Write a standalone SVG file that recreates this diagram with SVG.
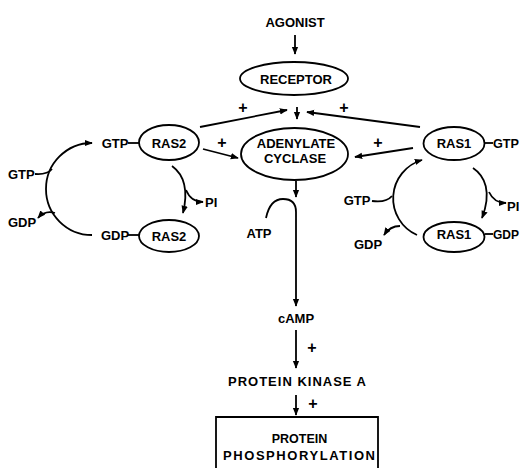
<svg xmlns="http://www.w3.org/2000/svg" width="520" height="468" viewBox="0 0 520 468">
  <style>
    .t { font-family: "Liberation Sans", Arial, sans-serif; font-weight: bold; font-size: 13px; fill: #000; }
    .m { text-anchor: middle; }
    .p { font-size: 16px; }
    .s { fill: none; stroke: #000; stroke-width: 1.8; }
    .a { fill: none; stroke: #000; stroke-width: 1.8; marker-end: url(#ah); }
  </style>
  <defs>
    <marker id="ah" viewBox="0 0 10 10" refX="9" refY="5" markerWidth="8" markerHeight="8" markerUnits="userSpaceOnUse" orient="auto">
      <path d="M0,1 L10,5 L0,9 z" fill="#000"/>
    </marker>
  </defs>
  <rect width="520" height="468" fill="#fff"/>

  <!-- nodes -->
  <g id="agonist">
    <text class="t m" x="295" y="27">AGONIST</text>
  </g>
  <g id="receptor">
    <ellipse class="s" cx="294" cy="78.5" rx="54" ry="16.5"/>
    <text class="t m" x="296" y="84">RECEPTOR</text>
  </g>
  <g id="adenylate-cyclase">
    <ellipse class="s" cx="294.5" cy="154" rx="53.5" ry="26"/>
    <text class="t m" x="296" y="148">ADENYLATE</text>
    <text class="t m" x="295" y="163">CYCLASE</text>
  </g>
  <g id="ras2-gtp">
    <text class="t m" x="115" y="148">GTP</text>
    <line class="s" x1="128" y1="143" x2="139" y2="143"/>
    <ellipse class="s" cx="169" cy="142.5" rx="30" ry="17.5"/>
    <text class="t m" x="169" y="148">RAS2</text>
  </g>
  <g id="ras2-gdp">
    <text class="t m" x="115" y="240">GDP</text>
    <line class="s" x1="128" y1="235" x2="139" y2="235"/>
    <ellipse class="s" cx="169" cy="236" rx="30" ry="16"/>
    <text class="t m" x="169" y="241">RAS2</text>
  </g>
  <g id="ras1-gtp">
    <ellipse class="s" cx="454" cy="143.5" rx="30.5" ry="16.5"/>
    <text class="t m" x="454" y="148">RAS1</text>
    <line class="s" x1="485" y1="143" x2="493" y2="143"/>
    <text class="t" x="493" y="148" textLength="26" lengthAdjust="spacingAndGlyphs">GTP</text>
  </g>
  <g id="ras1-gdp">
    <ellipse class="s" cx="454" cy="237" rx="30.5" ry="15"/>
    <text class="t m" x="454" y="239">RAS1</text>
    <line class="s" x1="485" y1="234" x2="493" y2="234"/>
    <text class="t" x="493" y="239" textLength="26" lengthAdjust="spacingAndGlyphs">GDP</text>
  </g>
  <g id="gtp-left"><text class="t" x="8" y="179">GTP</text></g>
  <g id="gdp-left"><text class="t" x="8" y="227">GDP</text></g>
  <g id="gtp-right"><text class="t m" x="357" y="205">GTP</text></g>
  <g id="gdp-right"><text class="t m" x="368" y="249">GDP</text></g>
  <g id="pi-left"><text class="t" x="205" y="207">PI</text></g>
  <g id="pi-right"><text class="t" x="507" y="211">PI</text></g>
  <g id="atp"><text class="t m" x="259" y="238">ATP</text></g>
  <g id="camp"><text class="t m" x="296" y="323">cAMP</text></g>
  <g id="protein-kinase-a">
    <text class="t" x="228" y="386" textLength="138" lengthAdjust="spacing">PROTEIN KINASE A</text>
  </g>
  <g id="protein-phosphorylation">
    <path class="s" d="M216 470 V417 H378 V470"/>
    <text class="t m" x="299.5" y="443" style="font-size:12.5px">PROTEIN</text>
    <text class="t" x="223" y="460" textLength="152" lengthAdjust="spacing">PHOSPHORYLATION</text>
  </g>

  <!-- connectors -->
  <g id="connectors">
    <line class="a" x1="295" y1="35" x2="295" y2="54"/>
    <line class="a" x1="297" y1="107" x2="297" y2="119"/>
    <line class="a" x1="200" y1="127" x2="287" y2="110"/>
    <line class="a" x1="420" y1="127" x2="307" y2="112"/>
    <line class="a" x1="203" y1="149" x2="238" y2="158"/>
    <line class="a" x1="413" y1="148" x2="355" y2="157"/>
    <line class="a" x1="296" y1="181" x2="296" y2="197"/>
    <path class="a" d="M266 218 Q270 199 283 199 Q296 199 296 212 L296 306"/>
    <line class="a" x1="296" y1="330" x2="296" y2="368"/>
    <line class="a" x1="296" y1="395" x2="296" y2="415"/>

    <!-- RAS2 cycle -->
    <path class="a" d="M92 235 A46 46 0 0 1 92 143"/>
    <path class="s" d="M35 174 Q47 175 52 169"/>
    <path class="a" d="M55 213 Q45 210 38 218"/>
    <path class="a" d="M172 166 C183 174 189 188 183 213"/>
    <path class="a" d="M186 190 Q191 202 203 202"/>

    <!-- RAS1 cycle -->
    <path class="a" d="M417 235 A40 40 0 0 1 422 160"/>
    <path class="s" d="M372 201 Q386 203 392 196"/>
    <path class="a" d="M400 226 Q390 226 384 235"/>
    <path class="a" d="M473 168 C485 176 492 192 482 218"/>
    <path class="a" d="M489 192 Q494 203 506 203"/>

    <!-- activation signs -->
    <text class="t m p" x="243" y="113">+</text>
    <text class="t m p" x="344" y="113">+</text>
    <text class="t m p" x="222" y="148">+</text>
    <text class="t m p" x="378" y="148">+</text>
    <text class="t m p" x="312" y="353">+</text>
    <text class="t m p" x="313" y="409">+</text>
  </g>
</svg>
